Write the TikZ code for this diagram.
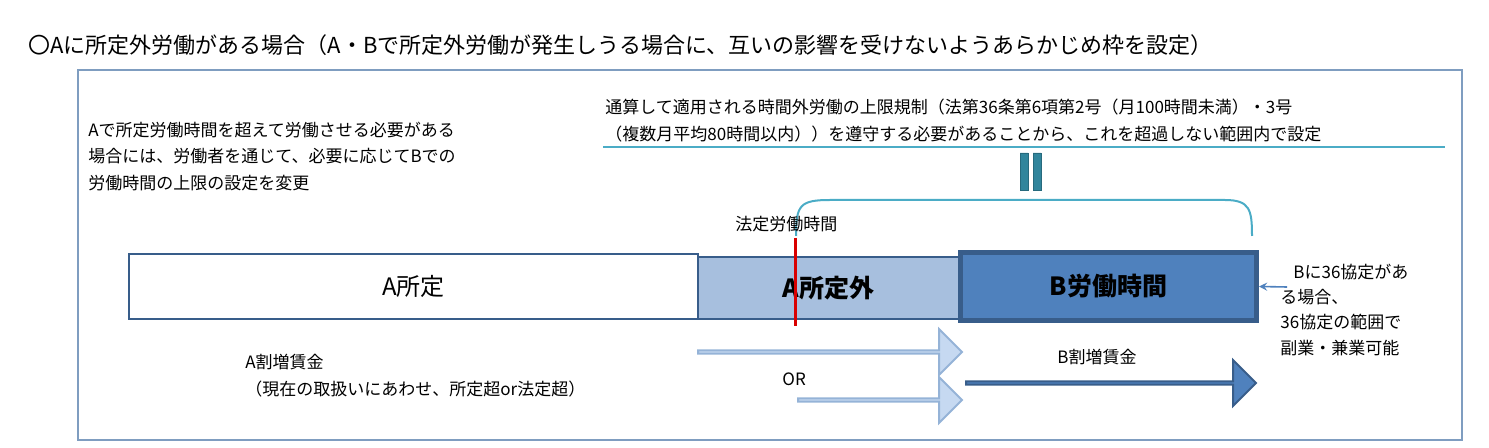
\documentclass[tikz,border=0pt]{standalone}
\usepackage{fontspec}
\setmainfont{Noto Sans CJK JP}
\usepackage{xcolor}
\usetikzlibrary{shapes,arrows,positioning,calc}
\definecolor{frameblue}{HTML}{7F9DC0}
\definecolor{darkblue}{HTML}{385D8A}
\definecolor{midblue}{HTML}{4F81BD}
\definecolor{paleblue}{HTML}{A7BFDE}
\definecolor{lightarrow}{HTML}{C6D9F1}
\definecolor{aqua}{HTML}{4BACC6}
\definecolor{teal}{HTML}{31859C}

\begin{document}
\begin{tikzpicture}[
    x=0.5pt, y=-0.5pt,
    txt/.style={anchor=west, inner sep=0pt, font=\fontsize{8.5pt}{10pt}\selectfont},
    bar/.style={rectangle, draw=darkblue, line width=1.2pt, anchor=north west, inner sep=0pt},
    fatarrow/.style={single arrow, anchor=west, inner sep=0pt, minimum width=23pt,
        single arrow head extend=6.5pt, single arrow head indent=0pt, line width=1pt},
]
    \useasboundingbox (0,0) rectangle (1489,448);

    % Title and frame
    \node[txt, font=\fontsize{11pt}{13pt}\selectfont] (title) at (28,45)
        {〇Aに所定外労働がある場合（A・Bで所定外労働が発生しうる場合に、互いの影響を受けないようあらかじめ枠を設定）};
    \draw[frameblue, line width=1pt] (78,70) rectangle (1462,440);

    % Notes
    \node[txt] (note1) at (88,130) {Aで所定労働時間を超えて労働させる必要がある};
    \node[txt] (note2) at (88,156) {場合には、労働者を通じて、必要に応じてBでの};
    \node[txt] (note3) at (88,183) {労働時間の上限の設定を変更};
    \node[txt] (limit1) at (605,107) {通算して適用される時間外労働の上限規制（法第36条第6項第2号（月100時間未満）・3号};
    \node[txt] (limit2) at (605,134) {（複数月平均80時間以内））を遵守する必要があることから、これを超過しない範囲内で設定};
    \draw[aqua, line width=0.6pt] (603,147) -- (1445,147);

    % Equals sign and brace
    \draw[teal!80!black, fill=teal, line width=0.4pt] (1020,153) rectangle (1028,190) (1033,153) rectangle (1041,190);
    \draw[aqua, line width=1pt] (796,236) .. controls (796,205) and (800,200) .. (830,200)
        -- (1225,200) .. controls (1250,200) and (1252,210) .. (1252,236);

    % Bars
    \node[bar, fill=white, minimum width=284.5pt, minimum height=32.5pt] (afix) at (128,253) {};
    \node[bar, fill=paleblue, minimum width=130.5pt, minimum height=31pt] (aover) at (697,256) {};
    \node[bar, fill=midblue, line width=2.5pt, minimum width=148pt, minimum height=34pt] (bwork) at (958,250) {};
    \node[font=\fontsize{12pt}{14pt}\selectfont] at (afix.center) {A所定};
    \node[font=\fontsize{12.5pt}{14pt}\selectfont\bfseries] at (aover.center) {A所定外};
    \node[font=\fontsize{12.5pt}{14pt}\selectfont\bfseries] at (bwork.center) {B労働時間};
    \node[txt] (legal) at (735,224) {法定労働時間};
    \draw[red!85!black, line width=1.5pt] (795,238) -- (795,326);

    % Side note
    \coordinate (sidetail) at (1287,287);
    \draw[midblue, line width=0.8pt, -stealth] (sidetail) -- (bwork.east);
    \node[txt] (side1) at (1293,272) {Bに36協定があ};
    \node[txt] (side2) at (1280,297) {る場合、};
    \node[txt] (side3) at (1280,322) {36協定の範囲で};
    \node[txt] (side4) at (1280,348) {副業・兼業可能};

    % Premium arrows
    \node[fatarrow, draw=paleblue!80!midblue, fill=lightarrow, minimum height=132pt] (afixarrow) at (697,352) {};
    \node[fatarrow, draw=paleblue!80!midblue, fill=lightarrow, minimum height=82pt] (alegalarrow) at (797,400) {};
    \node[fatarrow, draw=darkblue, fill=midblue, minimum height=145pt] (barrow) at (965,383) {};
    \node[txt] (apay1) at (245,362) {A割増賃金};
    \node[txt] (apay2) at (245,389) {（現在の取扱いにあわせ、所定超or法定超）};
    \node[txt] (ortext) at (782,379) {OR};
    \node[txt] (bpay) at (1057,357) {B割増賃金};
\end{tikzpicture}
\end{document}
